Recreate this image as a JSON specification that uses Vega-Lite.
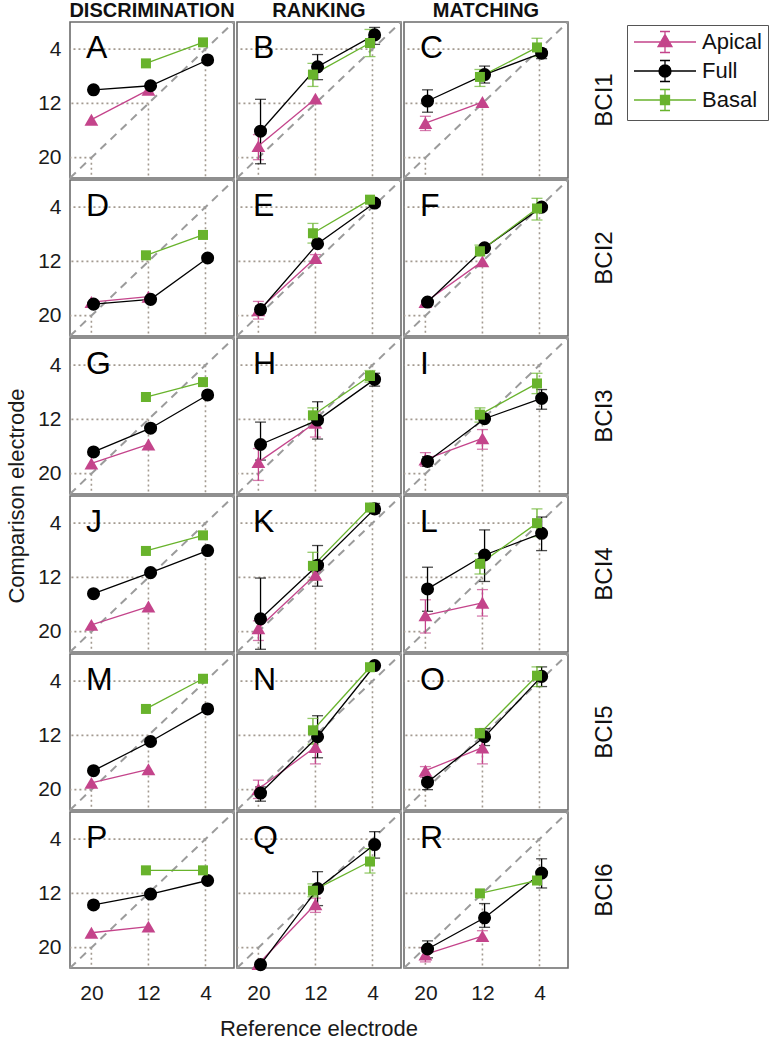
{
"$schema": "https://vega.github.io/schema/vega-lite/v6.json",
"background": "white",
"padding": {"left": 5, "top": 1, "right": 3, "bottom": 5},
"bounds": "flush",
"data": {"values": [
{"task":"DISCRIMINATION","bci":"BCI1","panel":"A","series":"Apical","ref":20,"x":20,"y":14.4},
{"task":"DISCRIMINATION","bci":"BCI1","panel":"A","series":"Apical","ref":12,"x":12,"y":10.0},
{"task":"DISCRIMINATION","bci":"BCI1","panel":"A","series":"Full","ref":20,"x":19.7,"y":10.0},
{"task":"DISCRIMINATION","bci":"BCI1","panel":"A","series":"Full","ref":12,"x":11.7,"y":9.4},
{"task":"DISCRIMINATION","bci":"BCI1","panel":"A","series":"Full","ref":4,"x":3.7,"y":5.6},
{"task":"DISCRIMINATION","bci":"BCI1","panel":"A","series":"Basal","ref":12,"x":12.35,"y":6.1},
{"task":"DISCRIMINATION","bci":"BCI1","panel":"A","series":"Basal","ref":4,"x":4.35,"y":3.0},
{"task":"RANKING","bci":"BCI1","panel":"B","series":"Apical","ref":20,"x":20,"y":18.3,"lo":16.6,"hi":20.3},
{"task":"RANKING","bci":"BCI1","panel":"B","series":"Apical","ref":12,"x":12,"y":11.3},
{"task":"RANKING","bci":"BCI1","panel":"B","series":"Full","ref":20,"x":19.7,"y":16.1,"lo":11.4,"hi":20.9},
{"task":"RANKING","bci":"BCI1","panel":"B","series":"Full","ref":12,"x":11.7,"y":6.6,"lo":4.8,"hi":8.5},
{"task":"RANKING","bci":"BCI1","panel":"B","series":"Full","ref":4,"x":3.7,"y":1.9,"lo":0.8,"hi":3.3},
{"task":"RANKING","bci":"BCI1","panel":"B","series":"Basal","ref":12,"x":12.35,"y":7.75,"lo":6.1,"hi":9.5},
{"task":"RANKING","bci":"BCI1","panel":"B","series":"Basal","ref":4,"x":4.35,"y":3.1,"lo":1.1,"hi":5.1},
{"task":"MATCHING","bci":"BCI1","panel":"C","series":"Apical","ref":20,"x":20,"y":14.9,"lo":13.9,"hi":16.0},
{"task":"MATCHING","bci":"BCI1","panel":"C","series":"Apical","ref":12,"x":12,"y":11.8},
{"task":"MATCHING","bci":"BCI1","panel":"C","series":"Full","ref":20,"x":19.7,"y":11.65,"lo":10.0,"hi":13.3},
{"task":"MATCHING","bci":"BCI1","panel":"C","series":"Full","ref":12,"x":11.7,"y":7.75,"lo":6.5,"hi":9.0},
{"task":"MATCHING","bci":"BCI1","panel":"C","series":"Full","ref":4,"x":3.7,"y":4.6,"lo":4.0,"hi":5.4},
{"task":"MATCHING","bci":"BCI1","panel":"C","series":"Basal","ref":12,"x":12.35,"y":8.1,"lo":7.0,"hi":9.5},
{"task":"MATCHING","bci":"BCI1","panel":"C","series":"Basal","ref":4,"x":4.35,"y":3.75,"lo":2.4,"hi":5.1},

{"task":"DISCRIMINATION","bci":"BCI2","panel":"D","series":"Apical","ref":20,"x":20,"y":18.0},
{"task":"DISCRIMINATION","bci":"BCI2","panel":"D","series":"Apical","ref":12,"x":12,"y":17.2},
{"task":"DISCRIMINATION","bci":"BCI2","panel":"D","series":"Full","ref":20,"x":19.7,"y":18.3},
{"task":"DISCRIMINATION","bci":"BCI2","panel":"D","series":"Full","ref":12,"x":11.7,"y":17.6},
{"task":"DISCRIMINATION","bci":"BCI2","panel":"D","series":"Full","ref":4,"x":3.7,"y":11.5},
{"task":"DISCRIMINATION","bci":"BCI2","panel":"D","series":"Basal","ref":12,"x":12.35,"y":11.1},
{"task":"DISCRIMINATION","bci":"BCI2","panel":"D","series":"Basal","ref":4,"x":4.35,"y":8.1},
{"task":"RANKING","bci":"BCI2","panel":"E","series":"Apical","ref":20,"x":20,"y":19.2,"lo":17.9,"hi":20.5},
{"task":"RANKING","bci":"BCI2","panel":"E","series":"Apical","ref":12,"x":12,"y":11.5,"lo":11.0,"hi":12.0},
{"task":"RANKING","bci":"BCI2","panel":"E","series":"Full","ref":20,"x":19.7,"y":19.1,"lo":18.6,"hi":19.6},
{"task":"RANKING","bci":"BCI2","panel":"E","series":"Full","ref":12,"x":11.7,"y":9.4},
{"task":"RANKING","bci":"BCI2","panel":"E","series":"Full","ref":4,"x":3.7,"y":3.4,"lo":2.9,"hi":3.9},
{"task":"RANKING","bci":"BCI2","panel":"E","series":"Basal","ref":12,"x":12.35,"y":7.85,"lo":6.4,"hi":9.3},
{"task":"RANKING","bci":"BCI2","panel":"E","series":"Basal","ref":4,"x":4.35,"y":2.9},
{"task":"MATCHING","bci":"BCI2","panel":"F","series":"Apical","ref":20,"x":20,"y":18.0},
{"task":"MATCHING","bci":"BCI2","panel":"F","series":"Apical","ref":12,"x":12,"y":12.0},
{"task":"MATCHING","bci":"BCI2","panel":"F","series":"Full","ref":20,"x":19.7,"y":18.0},
{"task":"MATCHING","bci":"BCI2","panel":"F","series":"Full","ref":12,"x":11.7,"y":10.0},
{"task":"MATCHING","bci":"BCI2","panel":"F","series":"Full","ref":4,"x":3.7,"y":4.0},
{"task":"MATCHING","bci":"BCI2","panel":"F","series":"Basal","ref":12,"x":12.35,"y":10.5,"lo":9.6,"hi":11.2},
{"task":"MATCHING","bci":"BCI2","panel":"F","series":"Basal","ref":4,"x":4.35,"y":4.2,"lo":2.7,"hi":5.9},

{"task":"DISCRIMINATION","bci":"BCI3","panel":"G","series":"Apical","ref":20,"x":20,"y":18.5},
{"task":"DISCRIMINATION","bci":"BCI3","panel":"G","series":"Apical","ref":12,"x":12,"y":15.7},
{"task":"DISCRIMINATION","bci":"BCI3","panel":"G","series":"Full","ref":20,"x":19.7,"y":16.8},
{"task":"DISCRIMINATION","bci":"BCI3","panel":"G","series":"Full","ref":12,"x":11.7,"y":13.3},
{"task":"DISCRIMINATION","bci":"BCI3","panel":"G","series":"Full","ref":4,"x":3.7,"y":8.4},
{"task":"DISCRIMINATION","bci":"BCI3","panel":"G","series":"Basal","ref":12,"x":12.35,"y":8.7},
{"task":"DISCRIMINATION","bci":"BCI3","panel":"G","series":"Basal","ref":4,"x":4.35,"y":6.5},
{"task":"RANKING","bci":"BCI3","panel":"H","series":"Apical","ref":20,"x":20,"y":18.3,"lo":16.3,"hi":21.0},
{"task":"RANKING","bci":"BCI3","panel":"H","series":"Apical","ref":12,"x":12,"y":12.5,"lo":10.9,"hi":14.6},
{"task":"RANKING","bci":"BCI3","panel":"H","series":"Full","ref":20,"x":19.7,"y":15.7,"lo":12.4,"hi":18.0},
{"task":"RANKING","bci":"BCI3","panel":"H","series":"Full","ref":12,"x":11.7,"y":12.1,"lo":9.4,"hi":14.9},
{"task":"RANKING","bci":"BCI3","panel":"H","series":"Full","ref":4,"x":3.7,"y":6.1,"lo":5.2,"hi":7.1},
{"task":"RANKING","bci":"BCI3","panel":"H","series":"Basal","ref":12,"x":12.35,"y":11.4,"lo":10.3,"hi":12.6},
{"task":"RANKING","bci":"BCI3","panel":"H","series":"Basal","ref":4,"x":4.35,"y":5.6,"lo":4.8,"hi":6.5},
{"task":"MATCHING","bci":"BCI3","panel":"I","series":"Apical","ref":20,"x":20,"y":17.9,"lo":16.9,"hi":18.9},
{"task":"MATCHING","bci":"BCI3","panel":"I","series":"Apical","ref":12,"x":12,"y":14.8,"lo":13.5,"hi":16.4},
{"task":"MATCHING","bci":"BCI3","panel":"I","series":"Full","ref":20,"x":19.7,"y":18.2,"lo":17.5,"hi":18.9},
{"task":"MATCHING","bci":"BCI3","panel":"I","series":"Full","ref":12,"x":11.7,"y":11.9},
{"task":"MATCHING","bci":"BCI3","panel":"I","series":"Full","ref":4,"x":3.7,"y":8.9,"lo":7.6,"hi":10.5},
{"task":"MATCHING","bci":"BCI3","panel":"I","series":"Basal","ref":12,"x":12.35,"y":11.3,"lo":10.3,"hi":12.4},
{"task":"MATCHING","bci":"BCI3","panel":"I","series":"Basal","ref":4,"x":4.35,"y":6.7,"lo":5.2,"hi":8.2},

{"task":"DISCRIMINATION","bci":"BCI4","panel":"J","series":"Apical","ref":20,"x":20,"y":19.0},
{"task":"DISCRIMINATION","bci":"BCI4","panel":"J","series":"Apical","ref":12,"x":12,"y":16.3},
{"task":"DISCRIMINATION","bci":"BCI4","panel":"J","series":"Full","ref":20,"x":19.7,"y":14.4},
{"task":"DISCRIMINATION","bci":"BCI4","panel":"J","series":"Full","ref":12,"x":11.7,"y":11.3},
{"task":"DISCRIMINATION","bci":"BCI4","panel":"J","series":"Full","ref":4,"x":3.7,"y":8.05},
{"task":"DISCRIMINATION","bci":"BCI4","panel":"J","series":"Basal","ref":12,"x":12.35,"y":8.1},
{"task":"DISCRIMINATION","bci":"BCI4","panel":"J","series":"Basal","ref":4,"x":4.35,"y":5.8},
{"task":"RANKING","bci":"BCI4","panel":"K","series":"Apical","ref":20,"x":20,"y":19.5,"lo":18.4,"hi":21.3},
{"task":"RANKING","bci":"BCI4","panel":"K","series":"Apical","ref":12,"x":12,"y":11.6,"lo":11.2,"hi":12.2},
{"task":"RANKING","bci":"BCI4","panel":"K","series":"Full","ref":20,"x":19.7,"y":18.1,"lo":12.1,"hi":22.6},
{"task":"RANKING","bci":"BCI4","panel":"K","series":"Full","ref":12,"x":11.7,"y":10.2,"lo":7.3,"hi":13.3},
{"task":"RANKING","bci":"BCI4","panel":"K","series":"Full","ref":4,"x":3.7,"y":1.9,"lo":1.1,"hi":2.6},
{"task":"RANKING","bci":"BCI4","panel":"K","series":"Basal","ref":12,"x":12.35,"y":10.3,"lo":8.3,"hi":12.4},
{"task":"RANKING","bci":"BCI4","panel":"K","series":"Basal","ref":4,"x":4.35,"y":1.7},
{"task":"MATCHING","bci":"BCI4","panel":"L","series":"Apical","ref":20,"x":20,"y":17.6,"lo":15.3,"hi":20.2},
{"task":"MATCHING","bci":"BCI4","panel":"L","series":"Apical","ref":12,"x":12,"y":15.75,"lo":13.8,"hi":17.7},
{"task":"MATCHING","bci":"BCI4","panel":"L","series":"Full","ref":20,"x":19.7,"y":13.7,"lo":10.5,"hi":17.0},
{"task":"MATCHING","bci":"BCI4","panel":"L","series":"Full","ref":12,"x":11.7,"y":8.7,"lo":5.0,"hi":12.6},
{"task":"MATCHING","bci":"BCI4","panel":"L","series":"Full","ref":4,"x":3.7,"y":5.5,"lo":3.1,"hi":8.05},
{"task":"MATCHING","bci":"BCI4","panel":"L","series":"Basal","ref":12,"x":12.35,"y":10.0,"lo":8.5,"hi":11.5},
{"task":"MATCHING","bci":"BCI4","panel":"L","series":"Basal","ref":4,"x":4.35,"y":4.0,"lo":1.9,"hi":6.0},

{"task":"DISCRIMINATION","bci":"BCI5","panel":"M","series":"Apical","ref":20,"x":20,"y":19.0},
{"task":"DISCRIMINATION","bci":"BCI5","panel":"M","series":"Apical","ref":12,"x":12,"y":17.0},
{"task":"DISCRIMINATION","bci":"BCI5","panel":"M","series":"Full","ref":20,"x":19.7,"y":17.2},
{"task":"DISCRIMINATION","bci":"BCI5","panel":"M","series":"Full","ref":12,"x":11.7,"y":12.9},
{"task":"DISCRIMINATION","bci":"BCI5","panel":"M","series":"Full","ref":4,"x":3.7,"y":8.1},
{"task":"DISCRIMINATION","bci":"BCI5","panel":"M","series":"Basal","ref":12,"x":12.35,"y":8.1},
{"task":"DISCRIMINATION","bci":"BCI5","panel":"M","series":"Basal","ref":4,"x":4.35,"y":3.65},
{"task":"RANKING","bci":"BCI5","panel":"N","series":"Apical","ref":20,"x":20,"y":19.9,"lo":18.6,"hi":21.3},
{"task":"RANKING","bci":"BCI5","panel":"N","series":"Apical","ref":12,"x":12,"y":13.7,"lo":11.5,"hi":16.2},
{"task":"RANKING","bci":"BCI5","panel":"N","series":"Full","ref":20,"x":19.7,"y":20.5,"lo":19.6,"hi":21.7},
{"task":"RANKING","bci":"BCI5","panel":"N","series":"Full","ref":12,"x":11.7,"y":12.2,"lo":9.1,"hi":15.3},
{"task":"RANKING","bci":"BCI5","panel":"N","series":"Full","ref":4,"x":3.7,"y":1.7},
{"task":"RANKING","bci":"BCI5","panel":"N","series":"Basal","ref":12,"x":12.35,"y":11.25,"lo":9.5,"hi":13.3},
{"task":"RANKING","bci":"BCI5","panel":"N","series":"Basal","ref":4,"x":4.35,"y":1.95},
{"task":"MATCHING","bci":"BCI5","panel":"O","series":"Apical","ref":20,"x":20,"y":17.2,"lo":16.6,"hi":18.2},
{"task":"MATCHING","bci":"BCI5","panel":"O","series":"Apical","ref":12,"x":12,"y":13.8,"lo":12.3,"hi":16.2},
{"task":"MATCHING","bci":"BCI5","panel":"O","series":"Full","ref":20,"x":19.7,"y":18.9,"lo":18.2,"hi":20.0},
{"task":"MATCHING","bci":"BCI5","panel":"O","series":"Full","ref":12,"x":11.7,"y":12.2,"lo":11.0,"hi":13.5},
{"task":"MATCHING","bci":"BCI5","panel":"O","series":"Full","ref":4,"x":3.7,"y":3.3,"lo":1.9,"hi":4.8},
{"task":"MATCHING","bci":"BCI5","panel":"O","series":"Basal","ref":12,"x":12.35,"y":11.7,"lo":11.0,"hi":12.4},
{"task":"MATCHING","bci":"BCI5","panel":"O","series":"Basal","ref":4,"x":4.35,"y":3.2,"lo":1.9,"hi":4.8},

{"task":"DISCRIMINATION","bci":"BCI6","panel":"P","series":"Apical","ref":20,"x":20,"y":17.8},
{"task":"DISCRIMINATION","bci":"BCI6","panel":"P","series":"Apical","ref":12,"x":12,"y":16.9},
{"task":"DISCRIMINATION","bci":"BCI6","panel":"P","series":"Full","ref":20,"x":19.7,"y":13.7},
{"task":"DISCRIMINATION","bci":"BCI6","panel":"P","series":"Full","ref":12,"x":11.7,"y":12.1},
{"task":"DISCRIMINATION","bci":"BCI6","panel":"P","series":"Full","ref":4,"x":3.7,"y":10.1},
{"task":"DISCRIMINATION","bci":"BCI6","panel":"P","series":"Basal","ref":12,"x":12.35,"y":8.6},
{"task":"DISCRIMINATION","bci":"BCI6","panel":"P","series":"Basal","ref":4,"x":4.35,"y":8.6},
{"task":"RANKING","bci":"BCI6","panel":"Q","series":"Apical","ref":20,"x":20,"y":22.4},
{"task":"RANKING","bci":"BCI6","panel":"Q","series":"Apical","ref":12,"x":12,"y":13.6,"lo":12.7,"hi":14.8},
{"task":"RANKING","bci":"BCI6","panel":"Q","series":"Full","ref":20,"x":19.7,"y":22.5},
{"task":"RANKING","bci":"BCI6","panel":"Q","series":"Full","ref":12,"x":11.7,"y":11.3,"lo":8.8,"hi":13.8},
{"task":"RANKING","bci":"BCI6","panel":"Q","series":"Full","ref":4,"x":3.7,"y":4.8,"lo":2.9,"hi":6.8},
{"task":"RANKING","bci":"BCI6","panel":"Q","series":"Basal","ref":12,"x":12.35,"y":11.6,"lo":10.6,"hi":12.5},
{"task":"RANKING","bci":"BCI6","panel":"Q","series":"Basal","ref":4,"x":4.35,"y":7.3,"lo":5.4,"hi":9.0},
{"task":"MATCHING","bci":"BCI6","panel":"R","series":"Apical","ref":20,"x":20,"y":21.0,"lo":20.0,"hi":22.1},
{"task":"MATCHING","bci":"BCI6","panel":"R","series":"Apical","ref":12,"x":12,"y":18.3,"lo":17.5,"hi":19.0},
{"task":"MATCHING","bci":"BCI6","panel":"R","series":"Full","ref":20,"x":19.7,"y":20.2,"lo":19.0,"hi":21.5},
{"task":"MATCHING","bci":"BCI6","panel":"R","series":"Full","ref":12,"x":11.7,"y":15.6,"lo":13.5,"hi":17.0},
{"task":"MATCHING","bci":"BCI6","panel":"R","series":"Full","ref":4,"x":3.7,"y":9.0,"lo":6.9,"hi":11.2},
{"task":"MATCHING","bci":"BCI6","panel":"R","series":"Basal","ref":12,"x":12.35,"y":12.0},
{"task":"MATCHING","bci":"BCI6","panel":"R","series":"Basal","ref":4,"x":4.35,"y":10.1}
]},
"facet": {
  "row": {"field": "bci", "type": "nominal", "sort": ["BCI1","BCI2","BCI3","BCI4","BCI5","BCI6"],
    "title": "Comparison electrode",
    "header": {"titleOrient": "left", "titleAngle": -90, "titleFontSize": 22, "titleFontWeight": "normal", "titleFont": "Liberation Sans", "titleColor": "#1a1a1a", "titlePadding": -24,
               "labelOrient": "right", "labelAngle": -90, "labelFontSize": 24, "labelFont": "Liberation Sans", "labelColor": "#111", "labelPadding": 13}},
  "column": {"field": "task", "type": "nominal", "sort": ["DISCRIMINATION","RANKING","MATCHING"],
    "title": "Reference electrode",
    "header": {"titleOrient": "bottom", "titleFontSize": 22, "titleFontWeight": "normal", "titleFont": "Liberation Sans", "titleColor": "#1a1a1a", "titlePadding": 6,
               "labelOrient": "top", "labelFontSize": 20, "labelFontWeight": "bold", "labelFont": "Liberation Sans", "labelColor": "#111", "labelPadding": 1}}
},
"spacing": {"row": 2, "column": 3},
"spec": {
  "width": 164,
  "height": 156,
  "layer": [
    {
      "transform": [{"filter": "datum.series === 'Full'"}],
      "mark": {"type": "rule", "color": "#a39a90", "strokeWidth": 1.6, "strokeDash": [2, 3]},
      "encoding": {
        "x": {"field": "ref", "type": "quantitative", "title": null,
              "scale": {"domain": [0, 23], "reverse": true, "nice": false, "zero": false},
              "axis": {"values": [20, 12, 4]}},
        "x2": {"datum": 23},
        "y": {"field": "ref", "type": "quantitative", "title": null,
              "scale": {"domain": [0, 23], "reverse": true, "nice": false, "zero": false},
              "axis": {"values": [4, 12, 20]}}
      }
    },
    {
      "transform": [{"filter": "datum.series === 'Full'"}],
      "mark": {"type": "rule", "color": "#a39a90", "strokeWidth": 1.6, "strokeDash": [2, 3]},
      "encoding": {
        "x": {"field": "ref", "type": "quantitative", "title": null},
        "y": {"field": "ref", "type": "quantitative", "title": null},
        "y2": {"datum": 23}
      }
    },
    {
      "transform": [{"filter": "datum.series === 'Full' && datum.ref === 20"}],
      "mark": {"type": "rule", "color": "#9b9b9b", "strokeWidth": 2, "strokeDash": [8, 6]},
      "encoding": {
        "x": {"datum": 23, "type": "quantitative", "title": null},
        "y": {"datum": 23, "type": "quantitative", "title": null},
        "x2": {"datum": 0},
        "y2": {"datum": 0}
      }
    },
    {
      "transform": [{"filter": "isValid(datum.lo) && datum.series === 'Apical'"}],
      "mark": {"type": "errorbar", "color": "#c4448b", "thickness": 1.3, "ticks": {"size": 11, "color": "#c4448b"}, "rule": {"color": "#c4448b"}},
      "encoding": {
        "x": {"field": "x", "type": "quantitative", "title": null},
        "y": {"field": "lo", "type": "quantitative", "title": null},
        "y2": {"field": "hi"}
      }
    },
    {
      "transform": [{"filter": "isValid(datum.lo) && datum.series === 'Full'"}],
      "mark": {"type": "errorbar", "color": "#000000", "thickness": 1.3, "ticks": {"size": 11, "color": "#000000"}, "rule": {"color": "#000000"}},
      "encoding": {
        "x": {"field": "x", "type": "quantitative", "title": null},
        "y": {"field": "lo", "type": "quantitative", "title": null},
        "y2": {"field": "hi"}
      }
    },
    {
      "transform": [{"filter": "isValid(datum.lo) && datum.series === 'Basal'"}],
      "mark": {"type": "errorbar", "color": "#68b32c", "thickness": 1.3, "ticks": {"size": 11, "color": "#68b32c"}, "rule": {"color": "#68b32c"}},
      "encoding": {
        "x": {"field": "x", "type": "quantitative", "title": null},
        "y": {"field": "lo", "type": "quantitative", "title": null},
        "y2": {"field": "hi"}
      }
    },
    {
      "transform": [{"filter": "datum.series === 'Apical'"}],
      "mark": {"type": "line", "strokeWidth": 1.3, "color": "#c4448b"},
      "encoding": {
        "x": {"field": "x", "type": "quantitative", "title": null},
        "y": {"field": "y", "type": "quantitative", "title": null}
      }
    },
    {
      "transform": [{"filter": "datum.series === 'Full'"}],
      "mark": {"type": "line", "strokeWidth": 1.3, "color": "#000000"},
      "encoding": {
        "x": {"field": "x", "type": "quantitative", "title": null},
        "y": {"field": "y", "type": "quantitative", "title": null}
      }
    },
    {
      "transform": [{"filter": "datum.series === 'Basal'"}],
      "mark": {"type": "line", "strokeWidth": 1.3, "color": "#68b32c"},
      "encoding": {
        "x": {"field": "x", "type": "quantitative", "title": null},
        "y": {"field": "y", "type": "quantitative", "title": null}
      }
    },
    {
      "transform": [{"filter": "datum.series === 'Apical'"}],
      "mark": {"type": "point", "shape": "triangle-up", "filled": true, "size": 190, "opacity": 1, "color": "#c4448b"},
      "encoding": {
        "x": {"field": "x", "type": "quantitative", "title": null},
        "y": {"field": "y", "type": "quantitative", "title": null}
      }
    },
    {
      "transform": [{"filter": "datum.series === 'Full'"}],
      "mark": {"type": "point", "shape": "circle", "filled": true, "size": 170, "opacity": 1, "color": "#000000"},
      "encoding": {
        "x": {"field": "x", "type": "quantitative", "title": null},
        "y": {"field": "y", "type": "quantitative", "title": null}
      }
    },
    {
      "transform": [{"filter": "datum.series === 'Basal'"}],
      "mark": {"type": "point", "shape": "square", "filled": true, "size": 100, "opacity": 1, "color": "#68b32c"},
      "encoding": {
        "x": {"field": "x", "type": "quantitative", "title": null},
        "y": {"field": "y", "type": "quantitative", "title": null}
      }
    },
    {
      "transform": [{"filter": "datum.series === 'Full' && datum.ref === 20"}],
      "mark": {"type": "text", "align": "left", "baseline": "middle", "fontSize": 32, "font": "Liberation Sans", "color": "#000"},
      "encoding": {
        "x": {"datum": 20.75, "type": "quantitative", "title": null},
        "y": {"datum": 3.8, "type": "quantitative", "title": null},
        "text": {"field": "panel"}
      }
    },
    {
      "transform": [{"filter": "datum.ref === 12"}],
      "mark": {"type": "point", "filled": true, "opacity": 0},
      "encoding": {
        "x": {"field": "x", "type": "quantitative", "title": null},
        "y": {"field": "y", "type": "quantitative", "title": null},
        "color": {"field": "series", "type": "nominal",
          "scale": {"domain": ["Apical", "Full", "Basal"], "range": ["#c4448b", "#000000", "#68b32c"]},
          "legend": {"title": null, "orient": "none", "legendX": 557, "legendY": 3, "symbolSize": 400, "symbolOpacity": 1, "labelOffset": 47, "labelFontSize": 22, "labelFont": "Liberation Sans", "labelColor": "#111", "padding": 6, "rowPadding": 1, "strokeColor": "#555", "fillColor": "#ffffff", "symbolStrokeWidth": 1.3,
            "encode": {"symbols": {"update": {"stroke": {"scale": "color", "field": "value"}, "strokeWidth": {"value": 1.3}, "opacity": {"value": 1}}}}}},
        "shape": {"field": "series", "type": "nominal",
          "scale": {"domain": ["Apical", "Full", "Basal"],
                    "range": ["M-1,0H5.2M2.1,-1.05V1.05M1.6,-1.05H2.6M1.6,1.05H2.6M2.1,-0.75L2.8,0.45L1.4,0.45Z",
                              "M-1,0H5.2M2.1,-1.05V1.05M1.6,-1.05H2.6M1.6,1.05H2.6M1.5,0A0.6,0.6 0 1,0 2.7,0A0.6,0.6 0 1,0 1.5,0Z",
                              "M-1,0H5.2M2.1,-1.05V1.05M1.6,-1.05H2.6M1.6,1.05H2.6M1.65,-0.45H2.55V0.45H1.65Z"]},
          "legend": {"title": null, "orient": "none", "legendX": 557, "legendY": 3, "symbolSize": 400, "symbolOpacity": 1, "labelOffset": 47, "labelFontSize": 22, "labelFont": "Liberation Sans", "labelColor": "#111", "padding": 6, "rowPadding": 1, "strokeColor": "#555", "fillColor": "#ffffff", "symbolStrokeWidth": 1.3,
            "encode": {"symbols": {"update": {"stroke": {"scale": "color", "field": "value"}, "strokeWidth": {"value": 1.3}, "opacity": {"value": 1}}}}}}
      }
    }
  ]
},
"config": {
  "font": "Liberation Sans",
  "view": {"stroke": "#6b6b6b", "strokeWidth": 1.6},
  "axis": {"grid": false, "ticks": false, "domain": false, "labelFontSize": 21, "labelColor": "#1a1a1a", "labelFont": "Liberation Sans",
           "titleFontSize": 22, "titleFontWeight": "normal", "titleColor": "#1a1a1a", "titleFont": "Liberation Sans"},
  "axisY": {"labelPadding": 9},
  "axisX": {"labelPadding": 14}
}
}
